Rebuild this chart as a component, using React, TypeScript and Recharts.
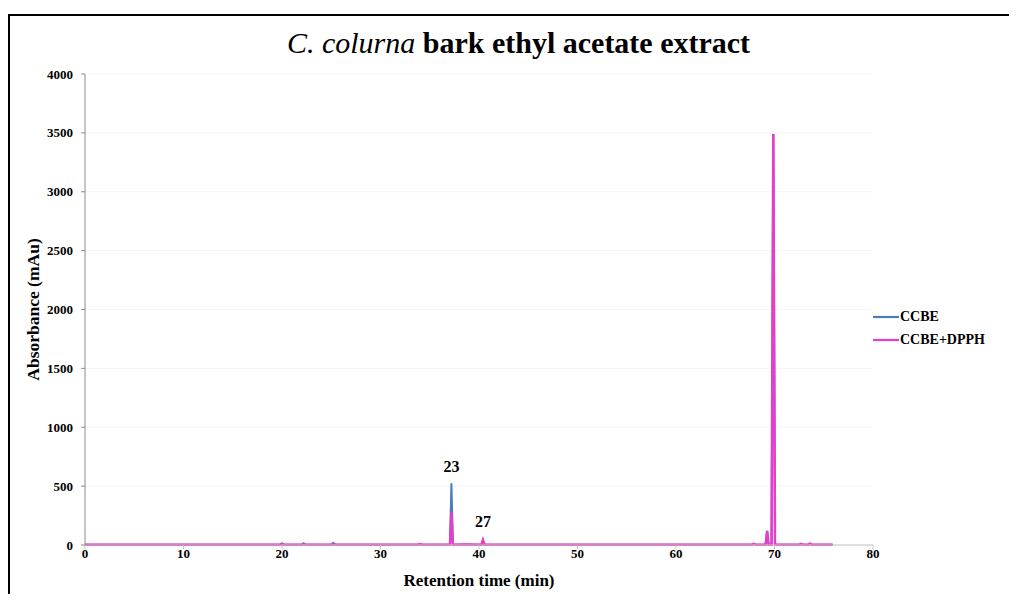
import React from 'react';
import { LineChart, Line, XAxis, YAxis, CartesianGrid, Legend, ReferenceDot, Label } from 'recharts';

const FONT = '"Liberation Serif", "Times New Roman", serif';

const times = [0, 3, 6, 10, 15, 19.8, 20.0, 20.2, 22.0, 22.2, 22.4, 25.0, 25.2, 25.4, 28, 31.5, 33.8, 34.0, 34.2, 36.9, 37.05, 37.2, 37.35, 37.5, 38.6, 40.25, 40.4, 40.55, 42, 45, 50, 55, 60, 64.5, 67.7, 67.9, 68.1, 69.1, 69.25, 69.4, 69.7, 69.88, 70.05, 71, 72.5, 72.7, 72.9, 73.4, 73.6, 73.8, 75.9];
const ccbe = [2, 2, 3, 2, 2, 2, 15, 2, 2, 14, 2, 2, 18, 2, 2, 3, 2, 8, 2, 3, 4, 525, 4, 3, 5, 3, 40, 3, 3, 2, 2, 2, 2, 3, 2, 10, 2, 3, 120, 3, 3, 3490, 3, 3, 2, 10, 2, 2, 12, 2, 2];
const ccbeDpph = [2, 2, 3, 2, 2, 2, 4, 2, 2, 8, 2, 2, 8, 2, 2, 3, 2, 8, 2, 3, 4, 283, 4, 3, 5, 3, 42, 3, 3, 2, 2, 2, 2, 3, 2, 10, 2, 3, 120, 3, 3, 3490, 3, 3, 2, 10, 2, 2, 12, 2, 2];

const seriesNames = ['CCBE', 'CCBE+DPPH'];
const seriesColors = ['#4A7EBB', '#E43FCB'];
const xTicks = [0, 10, 20, 30, 40, 50, 60, 70, 80];
const yTicks = [0, 500, 1000, 1500, 2000, 2500, 3000, 3500, 4000];
const peakLabels = [
  { t: 37.2, v: 525, text: '23', offset: 11 },
  { t: 40.4, v: 42, text: '27', offset: 13 },
];

const data = times.map((t, i) => ({ t, ccbe: ccbe[i], dpph: ccbeDpph[i] }));

const LegendContent = () => (
  <div style={{ fontFamily: FONT, fontWeight: 'bold', fontSize: 14, color: '#000' }}>
    {seriesNames.map((n, i) => (
      <div key={n} style={{ display: 'flex', alignItems: 'center', height: 23 }}>
        <svg width={27} height={4} style={{ display: 'block' }}>
          <line x1={0} y1={2} x2={26} y2={2} stroke={seriesColors[i]} strokeWidth={2.2} />
        </svg>
        <span style={{ whiteSpace: 'nowrap' }}>{n}</span>
      </div>
    ))}
  </div>
);

export default function App() {
  return (
    <div style={{ position: 'relative', width: 1009, height: 586, overflow: 'hidden' }}>
      <div style={{ position: 'absolute', left: 0, top: 6, right: -10, bottom: -10, borderTop: '2px solid #000', borderLeft: '2px solid #000' }} />
      <div style={{ position: 'absolute', left: 0, top: 20, width: 1021, textAlign: 'center', fontFamily: FONT, fontSize: 30, lineHeight: '30px', color: '#000', whiteSpace: 'nowrap' }}>
        <span style={{ fontStyle: 'italic' }}>C. colurna</span>
        <span style={{ fontWeight: 'bold' }}> bark ethyl acetate extract</span>
      </div>
      <div style={{ position: 'absolute', left: 0, top: 0 }}>
        <LineChart width={1009} height={586} data={data} margin={{ top: 66, right: 144, left: 17, bottom: 19 }}>
          <CartesianGrid horizontal={true} vertical={false} stroke="#f5f5f5" />
          <XAxis
            dataKey="t"
            type="number"
            domain={[0, 80]}
            ticks={xTicks}
            height={30}
            tickSize={4}
            tickMargin={0}
            axisLine={{ stroke: '#c4c4c4' }}
            tickLine={{ stroke: '#c4c4c4' }}
            tick={{ fill: '#000', fontFamily: FONT, fontWeight: 'bold', fontSize: 13 }}
          >
            <Label value="Retention time (min)" position="center" dy={20} style={{ fill: '#000', fontFamily: FONT, fontWeight: 'bold', fontSize: 17 }} />
          </XAxis>
          <YAxis
            type="number"
            domain={[0, 4000]}
            ticks={yTicks}
            width={60}
            tickSize={4}
            tickMargin={8}
            axisLine={{ stroke: '#8c8c8c' }}
            tickLine={{ stroke: '#8c8c8c' }}
            tick={{ fill: '#000', fontFamily: FONT, fontWeight: 'bold', fontSize: 13 }}
          >
            <Label value="Absorbance (mAu)" angle={-90} position="center" dx={-22} style={{ fill: '#000', fontFamily: FONT, fontWeight: 'bold', fontSize: 17.5, textAnchor: 'middle' }} />
          </YAxis>
          <Legend
            layout="vertical"
            align="center"
            verticalAlign="middle"
            content={<LegendContent />}
            wrapperStyle={{ position: 'absolute', left: 865, top: 297, width: 140 }}
          />
          <Line type="linear" dataKey="ccbe" name={seriesNames[0]} stroke={seriesColors[0]} strokeWidth={2} dot={false} isAnimationActive={false} />
          <Line type="linear" dataKey="dpph" name={seriesNames[1]} stroke={seriesColors[1]} strokeWidth={2.5} dot={false} isAnimationActive={false} />
          {peakLabels.map((p) => (
            <ReferenceDot
              key={p.text}
              x={p.t}
              y={p.v}
              r={0}
              fill="none"
              stroke="none"
              label={{ value: p.text, position: 'top', offset: p.offset, fill: '#000', fontFamily: FONT, fontWeight: 'bold', fontSize: 16 }}
            />
          ))}
        </LineChart>
      </div>
    </div>
  );
}
